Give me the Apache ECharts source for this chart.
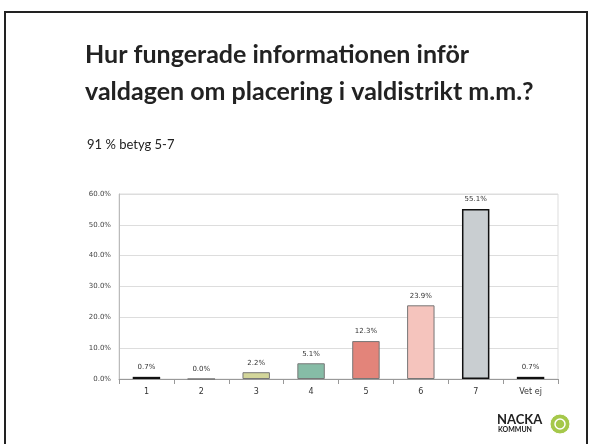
<!DOCTYPE html>
<html><head><meta charset="utf-8">
<script src="https://cdn.jsdelivr.net/npm/echarts@6/dist/echarts.min.js"></script>
<style>html,body{margin:0;padding:0;background:#fff}#c{width:590px;height:444px}</style>
</head><body><div id="c"></div>
<script>
const categories = ['1','2','3','4','5','6','7','Vet ej'];
const values = [0.7, 0.0, 2.2, 5.1, 12.3, 23.9, 55.1, 0.7];
const barColors = ['#3f5f80','#8a9bb0','#d3d69a','#86bca6','#e3847a','#f5c4bd','#c9ced1','#111111'];
const yTicks = [0,10,20,30,40,50,60];

const chart = echarts.init(document.getElementById('c'));
chart.setOption({
  animation:false,
  backgroundColor:'#fff',
  title:[
    {text:'Hur fungerade informationen inför\nvaldagen om placering i valdistrikt m.m.?', left:80, top:31,
     textStyle:{fontFamily:'Lato',fontWeight:'bold',fontSize:25,color:'#222',lineHeight:37}},
    {text:'91 % betyg 5-7', left:82, top:133, textStyle:{fontFamily:'Lato',fontWeight:'normal',fontSize:13,color:'#222'}}
  ],
  graphic:[
    {type:'rect',shape:{x:5,y:12,width:582,height:440},style:{fill:'none',stroke:'#222',lineWidth:2}},
    {type:'text',left:497,top:413,style:{text:'NACKA',font:'bold 13px Lato',fill:'#222'}},
    {type:'text',left:498,top:426,style:{text:'KOMMUN',font:'bold 7px Lato',fill:'#222'}},
    {type:'circle',shape:{cx:560,cy:424,r:10},style:{fill:'#a5c84a',stroke:'#fff',lineWidth:1}},
    {type:'circle',shape:{cx:560,cy:424,r:5},style:{fill:'none',stroke:'#fff',lineWidth:1.5}}
  ],
  grid:{left:119,right:32,top:194,bottom:65,show:true,borderColor:'#ddd',borderWidth:1},
  xAxis:{type:'category',data:categories,
    axisLine:{lineStyle:{color:'#999'}},axisTick:{show:true,alignWithLabel:false,lineStyle:{color:'#999'}},
    axisLabel:{color:'#333',fontSize:8,fontFamily:'DejaVu Sans',margin:9}},
  yAxis:{type:'value',min:0,max:60,interval:10,
    axisLine:{show:true,lineStyle:{color:'#bbb'}},axisTick:{show:false},
    axisLabel:{color:'#444',fontSize:7,fontFamily:'DejaVu Sans',formatter:v=>v.toFixed(1)+'%',margin:8},
    splitLine:{lineStyle:{color:'#ddd'}}},
  series:[{type:'bar',barWidth:'50%',
    data:values.map((v,i)=>({value:v,itemStyle:{color:barColors[i],borderColor:(i===6||i===7||i===0)?'#111':'#777',borderWidth:(i===6||i===7||i===0)?1.5:1}})),
    label:{show:true,position:'top',distance:6,fontSize:7,color:'#333',fontFamily:'DejaVu Sans',formatter:p=>p.value.toFixed(1)+'%'}}]
});
</script></body></html>
